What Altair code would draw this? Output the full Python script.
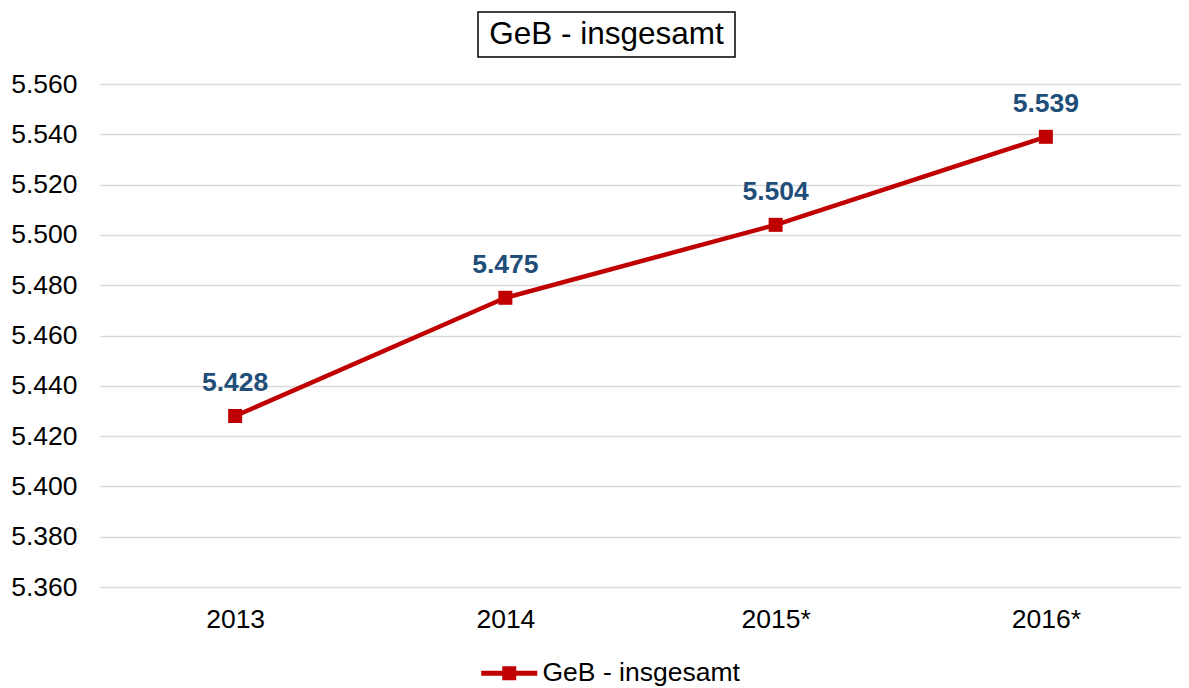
import altair as alt
import pandas as pd

years = ["2013", "2014", "2015*", "2016*"]
values = [5428, 5475, 5504, 5539]
series = ["GeB - insgesamt"] * 4
labels = ["5.428", "5.475", "5.504", "5.539"]
title_text = ["GeB - insgesamt"]

df = pd.DataFrame({"Jahr": years, "Wert": values, "Reihe": series, "Label": labels})

RED = "#C00000"
BLUE = "#1F4E79"
FONT = "Liberation Sans"
FS = 26.5

x_enc = alt.X("Jahr:N", sort=years, title=None,
              scale=alt.Scale(paddingInner=0, paddingOuter=0),
              axis=alt.Axis(labelAngle=0, labelFontSize=FS, labelColor="#000000",
                            labelFont=FONT, ticks=False, domain=False, grid=False,
                            labelPadding=19))
y_enc = alt.Y("Wert:Q", title=None,
              scale=alt.Scale(domain=[5360, 5560], nice=False, zero=False),
              axis=alt.Axis(values=list(range(5360, 5561, 20)),
                            labelExpr="replace(format(datum.value, ','), ',', '.')",
                            labelFontSize=FS, labelColor="#000000", labelFont=FONT,
                            ticks=False, domain=False, grid=True, gridColor="#D9D9D9",
                            gridWidth=1.5, labelPadding=23))

# symbol of 14px (size 196 -> radius 7 units); line spans 56px total
legend_path = ("M-4,-0.36 L4,-0.36 L4,0.36 L-4,0.36 Z "
               "M-1,-1 L1,-1 L1,1 L-1,1 Z")

color_enc = alt.Color("Reihe:N", title=None,
                      scale=alt.Scale(domain=["GeB - insgesamt"], range=[RED]),
                      legend=alt.Legend(orient="none", legendX=396, legendY=576,
                                        padding=0,
                                        symbolType=legend_path, symbolSize=196,
                                        symbolFillColor=RED, symbolStrokeWidth=0,
                                        labelFontSize=FS, labelFont=FONT, labelLimit=500,
                                        labelColor="#000000", labelOffset=20))

base = alt.Chart(df)

line = base.mark_line(strokeWidth=4.5, color=RED).encode(x=x_enc, y=y_enc, color=color_enc)
pts = base.mark_point(shape="square", filled=True, size=196, opacity=1, color=RED).encode(
    x=x_enc, y=y_enc, color=color_enc)
txt = base.mark_text(dy=-33, fontSize=FS, fontWeight="bold", color=BLUE, font=FONT).encode(
    x=x_enc, y=y_enc, text="Label:N")

tdf = pd.DataFrame({"t": title_text})
tbox = alt.Chart(tdf).mark_rect(fill="white", stroke="#000000", strokeWidth=1.5).encode(
    x=alt.value(378), x2=alt.value(635), y=alt.value(-72), y2=alt.value(-27))
ttxt = alt.Chart(tdf).mark_text(fontSize=31.5, font=FONT, color="#000000", baseline="middle").encode(
    x=alt.value(506.5), y=alt.value(-49), text="t:N")

chart = alt.layer(line, pts, txt, tbox, ttxt).properties(
    width=1081, height=503,
    padding={"left": 92, "top": 76, "right": 0, "bottom": 100},
    autosize=alt.AutoSizeParams(type="none"),
).configure_view(stroke=None)

chart.save("out.html", embed_options={"renderer": "svg", "actions": False})
